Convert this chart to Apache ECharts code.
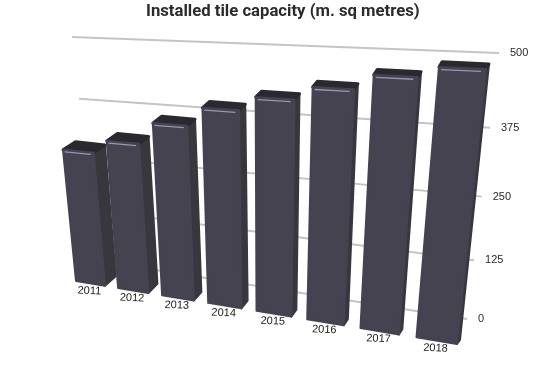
<!DOCTYPE html>
<html><head><meta charset="utf-8">
<style>html,body{margin:0;padding:0;background:#fff}#c{width:540px;height:365px}</style>
<script src="https://cdn.jsdelivr.net/npm/echarts@6/dist/echarts.min.js"></script>
</head><body><div id="c"></div>
<script>
const years = ['2011','2012','2013','2014','2015','2016','2017','2018'];
const capacity = [286,312,354,389,414,437,462,479];
const ticks = [0,125,250,375,500];
const titleText = 'Installed tile capacity (m. sq metres)';

// Perspective planes of the drawing: corners are (u,v) = (0,0),(1,0),(1,1),(0,1)
function homography(q){
  const [p0,p1,p2,p3]=q;
  const dx1=p1[0]-p2[0],dx2=p3[0]-p2[0],sx=p0[0]-p1[0]+p2[0]-p3[0];
  const dy1=p1[1]-p2[1],dy2=p3[1]-p2[1],sy=p0[1]-p1[1]+p2[1]-p3[1];
  const den=dx1*dy2-dx2*dy1;
  const g=(sx*dy2-dx2*sy)/den,h=(dx1*sy-sx*dy1)/den;
  const a=p1[0]-p0[0]+g*p1[0],b=p3[0]-p0[0]+h*p3[0],c=p0[0];
  const d=p1[1]-p0[1]+g*p1[1],e=p3[1]-p0[1]+h*p3[1],f=p0[1];
  return (u,v)=>{const w=g*u+h*v+1;return [(a*u+b*v+c)/w,(d*u+e*v+f)/w];};
}
const wall  = homography([[98,261],[467,319],[499,53],[72,37]]);
const front = homography([[76,281],[457,344],[487.5,55],[52,39]]);
const back  = homography([[88,271],[460,340],[490.5,50],[65,33]]);

const chart = echarts.init(document.getElementById('c'),null,{renderer:'canvas'});

function planeUV(api,params,xv,yv){
  const p=api.coord([xv,yv]), cs=params.coordSys;
  return [(p[0]-cs.x)/cs.width,1-(p[1]-cs.y)/cs.height];
}
function poly(points,fill,lw){
  return {type:'polygon',shape:{points},
    style:{fill,stroke:fill,lineWidth:lw,lineJoin:'round'}};
}
function renderGrid(params,api){
  const t=api.value(1);
  const v=planeUV(api,params,0,t)[1];
  const a=wall(0,v), b=wall(1,v);
  return {type:'group',children:[
    {type:'line',shape:{x1:a[0],y1:a[1],x2:b[0],y2:b[1]},style:{stroke:'#c4c4c4',lineWidth:2}},
    {type:'text',style:{x:b[0]+11,y:b[1],text:String(t),fill:'#2a2a2a',font:'11px "Liberation Sans"',align:'left',verticalAlign:'middle'}}
  ]};
}
function renderBar(params,api){
  const i=api.value(0), val=api.value(1);
  const [U,V]=planeUV(api,params,i,val);
  const band=api.size([1,0])[0]/params.coordSys.width;
  const map=x=>-0.02+1.04*x;
  const u0=map(U-band*0.346), u1=map(U+band*0.346);
  const ftl=front(u0,V),ftr=front(u1,V),fbl=front(u0,0),fbr=front(u1,0);
  const btl=back(u0,V),btr=back(u1,V),bbr=back(u1,0);
  const s=(u1-u0);
  const hl0=front(u0+s*0.05,V-0.008),hl1=front(u1-s*0.1,V-0.008);
  const mid=front((u0+u1)/2,0);
  return {type:'group',children:[
    poly([ftr,btr,bbr,fbr],'#38373e',2),
    poly([ftl,ftr,btr,btl],'#2a2930',3),
    poly([ftl,ftr,fbr,fbl],'#45434f',2),
    {type:'line',shape:{x1:hl0[0],y1:hl0[1],x2:hl1[0],y2:hl1[1]},style:{stroke:'#9596b0',lineWidth:1.3}},
    {type:'text',rotation:-0.04,x:mid[0]-1,y:mid[1]+7.5,
      style:{x:0,y:0,text:years[i],fill:'#222',font:'11px "Liberation Sans"',align:'center',verticalAlign:'middle'}}
  ]};
}
chart.setOption({
  animation:false,
  backgroundColor:'#fff',
  title:{text:titleText,left:141,top:-2,
    textStyle:{fontFamily:'Roboto',fontWeight:'bold',fontSize:16.7,color:'#2b2b2b'}},
  grid:{left:0,right:0,top:0,bottom:0},
  xAxis:{type:'category',data:years,show:false},
  yAxis:{type:'value',min:0,max:500,interval:125,show:false},
  series:[
    {type:'custom',name:'gridlines',clip:false,z:1,renderItem:renderGrid,silent:true,
      data:ticks.map(t=>[0,t])},
    {type:'custom',name:'Installed tile capacity',clip:false,z:2,renderItem:renderBar,silent:true,
      data:capacity.map((c,i)=>[i,c])}
  ]
});
</script></body></html>
